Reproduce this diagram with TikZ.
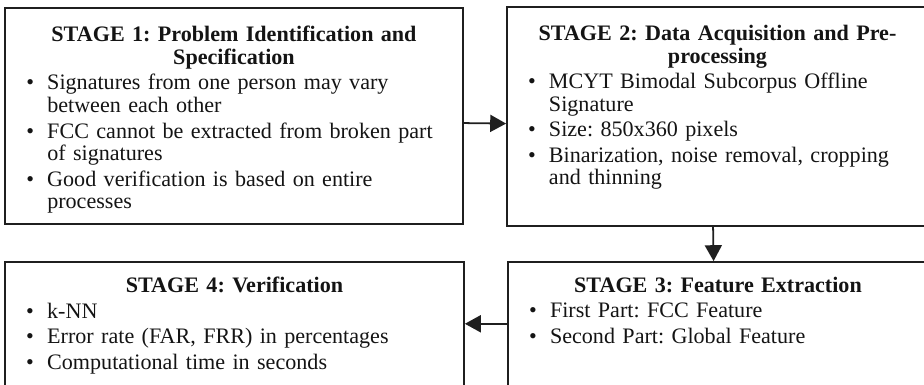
\documentclass[tikz,border=0pt]{standalone}
\usepackage{fontspec}
\setmainfont{Liberation Serif}
\usepackage{tikz}
\usetikzlibrary{arrows.meta,positioning}
\frenchspacing
\newcommand{\px}{0.4525pt}
\newcommand{\stagefont}{\fontsize{10pt}{10.2pt}\selectfont}
\newcommand{\stagetitle}[1]{{\centering\bfseries #1\par}}
\newcommand{\stagebullet}[1]{\par\vspace{1.35pt}\hangindent=9.5pt\hangafter=1\noindent\makebox[9.5pt][l]{\textbullet}#1\par}

\tikzset{
  stagebox/.style={draw=black!88, line width=0.8pt, inner sep=0pt},
  stagetext/.style={inner sep=0pt, text width=#1, align=left, anchor=north, font=\stagefont, text=black!92},
  flow/.style={-{Triangle[length=7.2pt,width=7.7pt]}, line width=0.8pt, draw=black!88},
}

\begin{document}
\begin{tikzpicture}[x=\px, y=-\px]
    \useasboundingbox (0,0) rectangle (924,385);
    \clip (0,0) rectangle (924,385);

    \node[stagebox, minimum width={458*\px}, minimum height={216*\px}] (1) at (234,116) {};
    \node[stagebox, minimum width={421*\px}, minimum height={219*\px}] (2) at (717.5,116.5) {};
    \node[stagebox, minimum width={420*\px}, minimum height={128*\px}] (3) at (718,326) {};
    \node[stagebox, minimum width={459*\px}, minimum height={128*\px}] (4) at (234.5,326) {};

    \node[stagetext=188pt, below=8.5pt of 1.north] (1t) {%
      \stagetitle{STAGE 1: Problem Identification and\\Specification}%
      \stagebullet{Signatures from one person may vary\newline between each other}%
      \stagebullet{FCC cannot be extracted from broken part\newline of signatures}%
      \stagebullet{Good verification is based on entire\newline processes}};
    \node[stagetext=171.5pt, below=8.5pt of 2.north] (2t) {%
      \stagetitle{STAGE 2: Data Acquisition and Pre-\\processing}%
      \stagebullet{MCYT Bimodal Subcorpus Offline\newline Signature}%
      \stagebullet{Size: 850x360 pixels}%
      \stagebullet{Binarization, noise removal, cropping\newline and thinning}};
    \node[stagetext=171pt, below=7pt of 3.north] (3t) {%
      \stagetitle{STAGE 3: Feature Extraction}%
      \stagebullet{First Part: FCC Feature}%
      \stagebullet{Second Part: Global Feature}};
    \node[stagetext=188.5pt, below=7pt of 4.north] (4t) {%
      \stagetitle{STAGE 4: Verification}%
      \stagebullet{k-NN}%
      \stagebullet{Error rate (FAR, FRR) in percentages}%
      \stagebullet{Computational time in seconds}};

    \path
    ([yshift=-3.2pt]1.east) edge[flow] ([yshift=-3.2pt]2.west)
    ([xshift=-2pt]2.south) edge[flow] ([xshift=-2pt]3.north)
    ([yshift=1pt]3.west) edge[flow] ([yshift=1pt]4.east);

\end{tikzpicture}
\end{document}
